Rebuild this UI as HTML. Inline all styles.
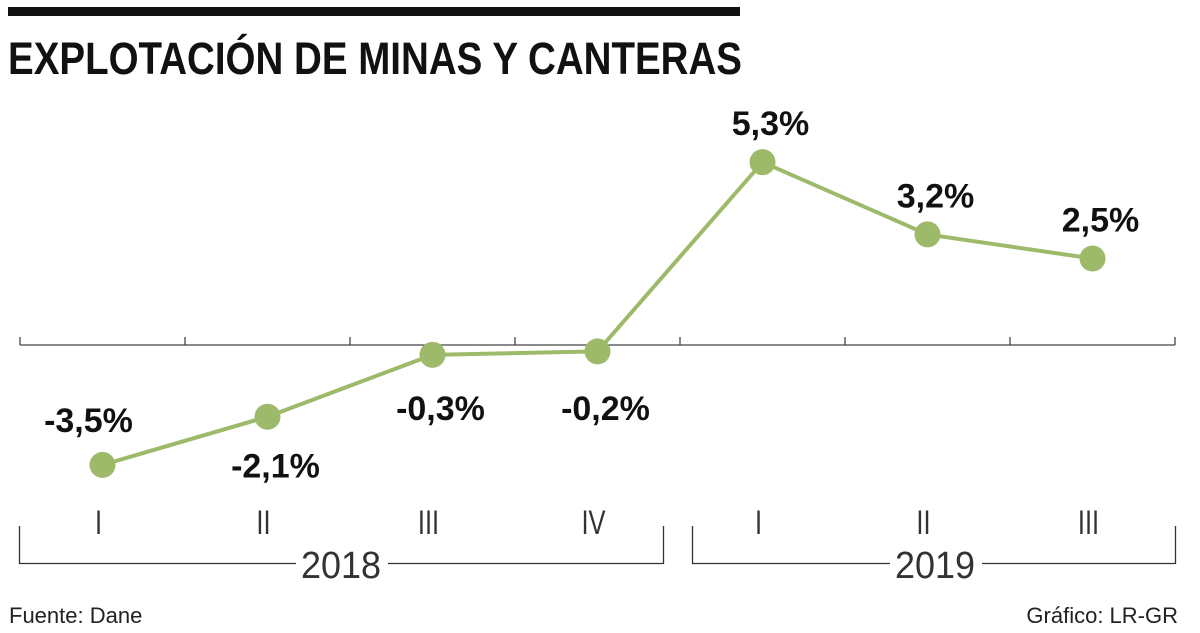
<!DOCTYPE html>
<html><head><meta charset="utf-8">
<style>
html,body{margin:0;padding:0;background:#fff;}
body{width:1200px;height:633px;overflow:hidden;position:relative;font-family:"Liberation Sans",sans-serif;}
svg{position:absolute;left:0;top:0;}
</style></head>
<body>
<svg width="1200" height="633" viewBox="0 0 1200 633">
<rect x="8" y="7" width="732" height="9" fill="#111"/>
<text x="8" y="74" font-family="Liberation Sans" font-weight="bold" font-size="45" fill="#111" textLength="734" lengthAdjust="spacingAndGlyphs">EXPLOTACIÓN DE MINAS Y CANTERAS</text>
<g id="axis"></g>
<g id="series"></g>
<g id="labels"></g>
<g id="cats"></g>
<g stroke="#333" stroke-width="1.3" fill="none">
<path d="M19.5 526 V563.5 H296 M388 563.5 H663.5 V526"/>
<path d="M692.5 526 V563.5 H890 M982 563.5 H1175.5 V526"/>
</g>
<text x="341" y="578" text-anchor="middle" font-size="38" fill="#333" textLength="80" lengthAdjust="spacingAndGlyphs">2018</text>
<text x="935" y="578" text-anchor="middle" font-size="38" fill="#333" textLength="80" lengthAdjust="spacingAndGlyphs">2019</text>
<text x="9" y="623" font-size="22" fill="#222">Fuente: Dane</text>
<text x="1178" y="623" text-anchor="end" font-size="22" fill="#222">Gráfico: LR-GR</text>
</svg>
<script>
const categories = ["I","II","III","IV","I","II","III"];
const values = [-3.5,-2.1,-0.3,-0.2,5.3,3.2,2.5];
const valueLabels = ["-3,5%","-2,1%","-0,3%","-0,2%","5,3%","3,2%","2,5%"];
const labelAbove = [true,false,false,false,true,true,true];

const NS="http://www.w3.org/2000/svg";
const x0=20, step=165;
function xScale(i){return x0+step*(i+0.5);}
function yScale(v){return 344.5 - v*34.4;}
function mk(t,a,p){const e=document.createElementNS(NS,t);for(const k in a)e.setAttribute(k,a[k]);p.appendChild(e);return e;}
const axis=document.getElementById('axis');
const al=mk('line',{x1:x0,x2:x0+step*categories.length,y1:345,y2:345,stroke:'#444','stroke-width':1.3},axis);


for(let i=0;i<=categories.length;i++){
  const t=mk('line',{x1:x0+step*i,x2:x0+step*i,y1:337,y2:345,stroke:'#444','stroke-width':1.3},axis);
  
  
}
const s=document.getElementById('series');
const pts=values.map((v,i)=>xScale(i)+','+yScale(v)).join(' ');
const pl=mk('polyline',{points:pts,fill:'none',stroke:'#9dba6a','stroke-width':4,'stroke-linejoin':'round'},s);


const lg=document.getElementById('labels'), cg=document.getElementById('cats');
values.forEach((v,i)=>{
  const c=mk('circle',{cx:xScale(i),cy:yScale(v),r:13,fill:'#9dba6a'},s);
  
  
  let y, dx=8;
  if(labelAbove[i]) y=yScale(v)-(i===0?33:27);
  else if(v<-1) y=yScale(v)+61;
  else y=420;
  if(i===0) dx=-14;
  const t=mk('text',{x:xScale(i)+dx,y:y,'text-anchor':'middle','font-size':34,'font-weight':'bold',fill:'#111'},lg);
  t.textContent=valueLabels[i];
  
  
  const ct=mk('text',{x:xScale(i)-4,y:534,'text-anchor':'middle','font-size':34,fill:'#333',transform:'translate('+(xScale(i)-4)+' 0) scale(0.75 1) translate('+(-(xScale(i)-4))+' 0)'},cg);
  ct.textContent=categories[i];
  
  
});
</script>
</body></html>
